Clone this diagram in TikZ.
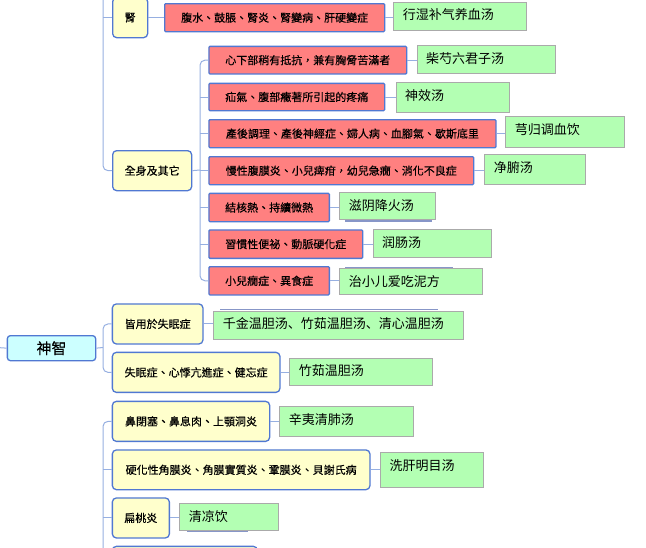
\documentclass[tikz,border=0pt]{standalone}
\usepackage{fontspec}
\newfontfamily\tcfont[FakeBold=0.4]{Noto Sans CJK TC}
\newfontfamily\scfont{Noto Sans CJK SC}
\definecolor{redf}{RGB}{255,128,128}
\definecolor{yelf}{RGB}{255,255,204}
\definecolor{greenf}{RGB}{179,255,179}
\definecolor{cyanf}{RGB}{204,255,255}
\definecolor{bordb}{RGB}{80,120,210}
\definecolor{grayb}{RGB}{170,170,170}
\definecolor{linec}{RGB}{150,175,225}
\definecolor{ghostc}{RGB}{135,150,200}
\tikzset{
  base/.style={anchor=north west, inner sep=0pt},
  wh/.style 2 args={minimum width=#1pt, minimum height=#2pt},
  redbox/.style={base, draw=bordb, fill=redf, line width=1.3pt, rounded corners=1pt, font=\tcfont\fontsize{11}{13}\selectfont},
  yelbox/.style={base, draw=bordb, fill=yelf, line width=1.3pt, rounded corners=4pt, font=\tcfont\fontsize{11}{13}\selectfont},
  rootbox/.style={base, draw=bordb, fill=cyanf, line width=1.3pt, rounded corners=3pt, font=\tcfont\fontsize{15}{17}\selectfont},
  grnbox/.style={base, draw=grayb, fill=greenf, line width=1pt, inner xsep=9pt, inner ysep=0pt, align=left, text height=17.5pt, font=\scfont\fontsize{13}{15}\selectfont},
  gsz/.style 2 args={text width=#1pt, text depth=#2pt},
  conn/.style={draw=linec, line width=1pt},
  ghost/.style={draw=ghostc, line width=1.5pt}
}
\begin{document}
\begin{tikzpicture}[x=1pt, y=-1pt]
\useasboundingbox (0,0) rectangle (646,547);
\clip (0,0) rectangle (646,547);

% ghost edges behind some green boxes
\draw[ghost] (345,221) -- (431.7,221);
\draw[ghost] (345,267.3) -- (453.3,267.3);
\draw[ghost] (220,309.6) -- (438,309.6);
\draw[ghost] (186.7,531) -- (248.3,531);

% ---------- upper group ----------
\node[yelbox, wh={35}{40}] (shen) at (112,-3) {腎};
\node[redbox, wh={220}{28}] (r0) at (164,3) {腹水、鼓脹、腎炎、腎變病、肝硬變症};
\node[grnbox, gsz={114.4}{10.8}] (g0) at (393.3,1.7) {行湿补气养血汤};

\node[yelbox, wh={79}{40}] (quan) at (112,150) {全身及其它};
\node[redbox, wh={197.7}{27.6}] (r1) at (208.3,45.7) {心下部稍有抵抗，兼有胸脅苦滿者};
\node[grnbox, gsz={120}{10.2}] (g1) at (416.7,45.3) {柴芍六君子汤};
\node[redbox, wh={175.7}{27.3}] (r2) at (208.3,82.7) {疝氣、腹部癥著所引起的疼痛};
\node[grnbox, gsz={95}{12.5}] (g2) at (395.7,82.3) {神效汤};
\node[redbox, wh={287}{28}] (r3) at (208.3,119) {產後調理、產後神經症、婦人病、血腳氣、歇斯底里};
\node[grnbox, gsz={100.4}{13.5}] (g3) at (505.3,116.3) {芎归调血饮};
\node[redbox, wh={264.7}{28}] (r4) at (208.3,156) {慢性腹膜炎、小兒痺疳，幼兒急癇、消化不良症};
\node[grnbox, gsz={83}{12.2}] (g4) at (484.3,154.3) {净腑汤};
\node[redbox, wh={120.4}{28.3}] (r5) at (208.3,192.7) {結核熱、持續微熱};
\node[grnbox, gsz={78}{9.5}] (g5) at (339.3,192.3) {滋阴降火汤};
\node[redbox, wh={153.7}{28.4}] (r6) at (208.3,229.3) {習慣性便祕、動脈硬化症};
\node[grnbox, gsz={100}{10.5}] (g6) at (372.7,229.3) {润肠汤};
\node[redbox, wh={120.4}{28.3}] (r7) at (208.3,266) {小兒癇症、異食症};
\node[grnbox, gsz={124.4}{8.5}] (g7) at (339.3,268.3) {治小儿爱吃泥方};

\coordinate (utop) at (103,-5);
\draw[conn, rounded corners=5pt] (utop) |- (quan.west);
\draw[conn] (utop |- shen.west) -- (shen.west);
\draw[conn] (shen.east) -- (shen.east -| r0.west);
\coordinate (qb) at (200,170);
\draw[conn] (quan.east) -- (qb);
\draw[conn, rounded corners=5pt] (r1.west) -| (qb) |- (r7.west);
\foreach \n in {r2,r3,r4,r5,r6} \draw[conn] (\n.west -| qb) -- (\n.west);
\foreach \a/\b in {r0/g0,r1/g1,r2/g2,r3/g3,r4/g4,r5/g5,r6/g6,r7/g7}
  \draw[conn] (\a.east) -- (\a.east -| \b.west);

% ---------- root group ----------
\node[rootbox, wh={88.3}{25}] (root) at (6.7,335) {神智};
\node[yelbox, wh={90.6}{40}] (jie) at (111.7,303.3) {皆用於失眠症};
\node[grnbox, gsz={231.4}{11.1}] (gj) at (213.3,310.7) {千金温胆汤、竹茹温胆汤、清心温胆汤};
\node[yelbox, wh={167.6}{40}] (shi) at (111.7,351.7) {失眠症、心悸亢進症、健忘症};
\node[grnbox, gsz={125}{9.8}] (gs) at (289.3,357.7) {竹茹温胆汤};

\coordinate (rin) at (-3,347.5);
\coordinate (rb) at (103,347.5);
\draw[conn] (rin) -- (root.west);
\draw[conn] (root.east) -- (rb);
\draw[conn, rounded corners=5pt] (jie.west) -| (rb) |- (shi.west);
\draw[conn] (jie.east) -- (jie.east -| gj.west);
\draw[conn] (shi.east) -- (shi.east -| gs.west);

% ---------- lower group ----------
\node[yelbox, wh={157.3}{40}] (bi) at (111.7,400.7) {鼻閉塞、鼻息肉、上顎洞炎};
\node[grnbox, gsz={115.4}{12.5}] (gb) at (279.3,406) {辛夷清肺汤};
\node[yelbox, wh={257.6}{39.7}] (ying) at (111.7,449.3) {硬化性角膜炎、角膜實質炎、鞏膜炎、貝謝氏病};
\node[grnbox, gsz={84.7}{17.2}] (gy) at (380,452) {洗肝明目汤};
\node[yelbox, wh={57}{40}] (bian) at (111.7,497.3) {扁桃炎};
\node[grnbox, gsz={81}{9.2}] (gbt) at (179.3,503.3) {清凉饮};
\node[yelbox, wh={145}{40}] (nextb) at (111.7,545.7) {};

\coordinate (lbot) at (103,600);
\draw[conn, rounded corners=5pt] (bi.west) -| (lbot);
\foreach \n in {ying,bian,nextb} \draw[conn] (\n.west -| lbot) -- (\n.west);
\draw[conn] (bi.east) -- (bi.east -| gb.west);
\draw[conn] (ying.east) -- (ying.east -| gy.west);
\draw[conn] (bian.east) -- (bian.east -| gbt.west);
\end{tikzpicture}
\end{document}
